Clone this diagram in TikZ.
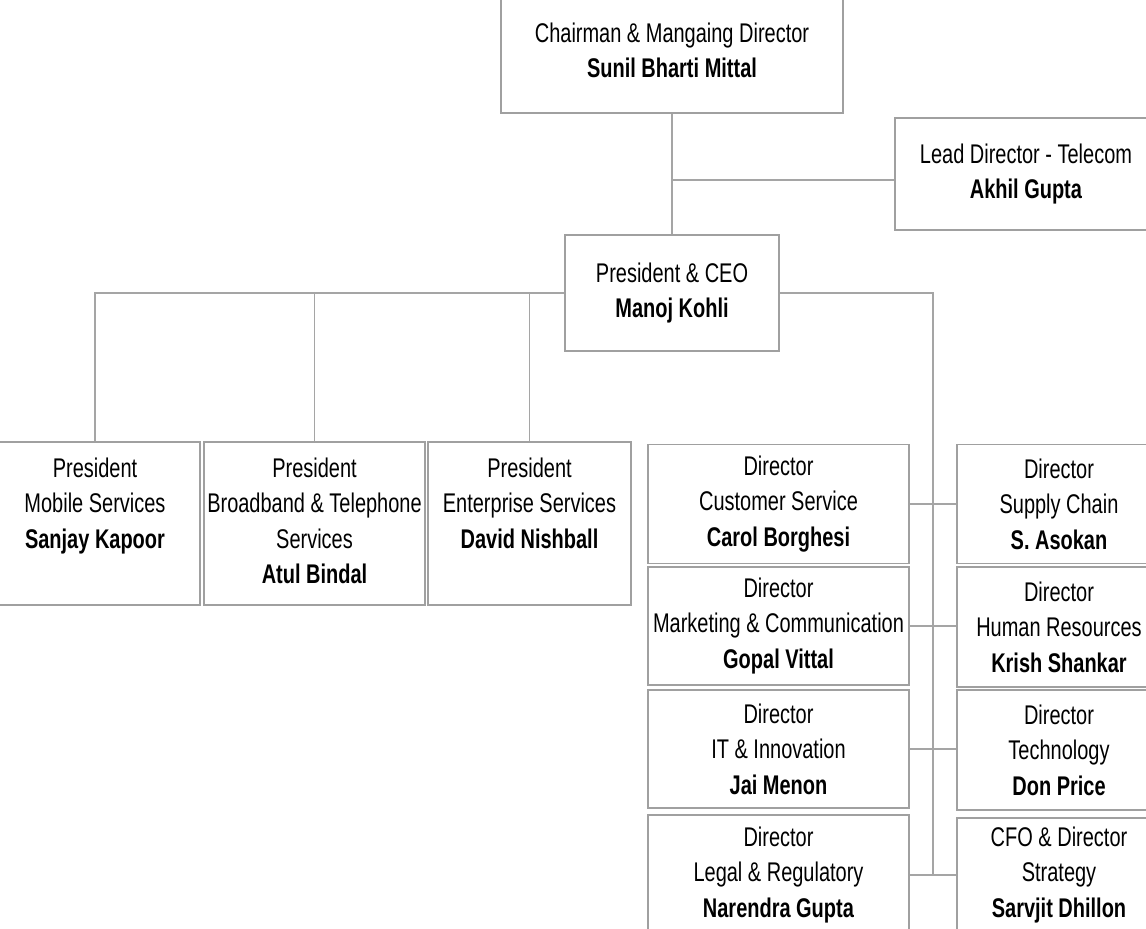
\documentclass[tikz,border=0pt]{standalone}
\usepackage{fontspec}
\setmainfont{Liberation Sans}[FakeStretch=0.74]
\usetikzlibrary{calc}
\definecolor{boxline}{RGB}{160,160,160}
\definecolor{connline}{RGB}{165,165,165}
\newcommand\orgfont{\fontsize{27}{35.5}\selectfont}
\tikzset{
  orgbox/.style={draw=boxline, line width=1.6pt, fill=white, inner sep=0pt,
    align=center, font=\orgfont, text=black},
  conn/.style={draw=connline, line width=1.6pt},
}
\begin{document}
\begin{tikzpicture}[x=1pt,y=-1pt]
\clip (0,0) rectangle (1146,929);
\fill[white] (0,0) rectangle (1146,929);

% top levels
\node[orgbox, minimum width=342pt, minimum height=125pt] (chair) at (672,50.5)
  {Chairman \& Mangaing Director\\\textbf{Sunil Bharti Mittal}};
\node[orgbox, minimum width=262pt, minimum height=112pt] (lead) at (1026,174)
  {Lead Director - Telecom\\\textbf{Akhil Gupta}};
\node[orgbox, minimum width=214pt, minimum height=116pt] (ceo) at (672,293)
  {President \& CEO\\\textbf{Manoj Kohli}};

% presidents
\node[orgbox, minimum width=210pt, minimum height=163pt] (p1) at (95,523.5)
  {\strut President\\Mobile Services\\\textbf{Sanjay Kapoor}\\\strut};
\node[orgbox, minimum width=221pt, minimum height=163pt] (p2) at (314.5,523.5)
  {\strut President\\Broadband \& Telephone\\Services\\\textbf{Atul Bindal}\strut};
\node[orgbox, minimum width=203pt, minimum height=163pt] (p3) at (529.5,523.5)
  {\strut President\\Enterprise Services\\\textbf{David Nishball}\\\strut};

% directors, left column
\node[orgbox, minimum width=261pt, minimum height=119pt] (d1) at (778.5,504)
  {Director\\Customer Service\\\textbf{Carol Borghesi}};
\node[orgbox, minimum width=261pt, minimum height=118pt] (d2) at (778.5,626)
  {Director\\Marketing \& Communication\\\textbf{Gopal Vittal}};
\node[orgbox, minimum width=261pt, minimum height=118pt] (d3) at (778.5,749)
  {Director\\IT \& Innovation\\\textbf{Jai Menon}};
\node[orgbox, minimum width=261pt, minimum height=120pt] (d4) at (778.5,875)
  {Director\\Legal \& Regulatory\\\textbf{Narendra Gupta}};

% directors, right column
\node[orgbox, minimum width=204pt, minimum height=119pt] (e1) at (1059,504)
  {Director\\Supply Chain\\\textbf{S. Asokan}};
\node[orgbox, minimum width=204pt, minimum height=120pt] (e2) at (1059,627)
  {Director\\Human Resources\\\textbf{Krish Shankar}};
\node[orgbox, minimum width=204pt, minimum height=120pt] (e3) at (1059,750)
  {Director\\Technology\\\textbf{Don Price}};
\node[orgbox, minimum width=204pt, minimum height=114pt] (e4) at (1059,875)
  {CFO \& Director\\Strategy\\\textbf{Sarvjit Dhillon}};

% connectors
\coordinate (leadin) at ([yshift=-6pt]lead.west);
\draw[conn] (chair.south) -- (ceo.north);
\draw[conn] (leadin) -- (leadin -| chair.south);

\draw[conn] (ceo.west) -- (ceo.west -| p1.north) -- (p1.north);
\draw[conn] (p2.north) -- (p2.north |- ceo.west);
\draw[conn] (p3.north) -- (p3.north |- ceo.west);

\coordinate (spine) at ($(d1.east)!0.5!(e1.west)$);
\draw[conn] (ceo.east) -- (ceo.east -| spine) -- (spine |- d4.east);
\draw[conn] (d1.east) -- (d1.east -| e1.west);
\draw[conn] (d2.east) -- (d2.east -| e2.west);
\draw[conn] (d3.east) -- (d3.east -| e3.west);
\draw[conn] (d4.east) -- (d4.east -| e4.west);
\end{tikzpicture}
\end{document}
